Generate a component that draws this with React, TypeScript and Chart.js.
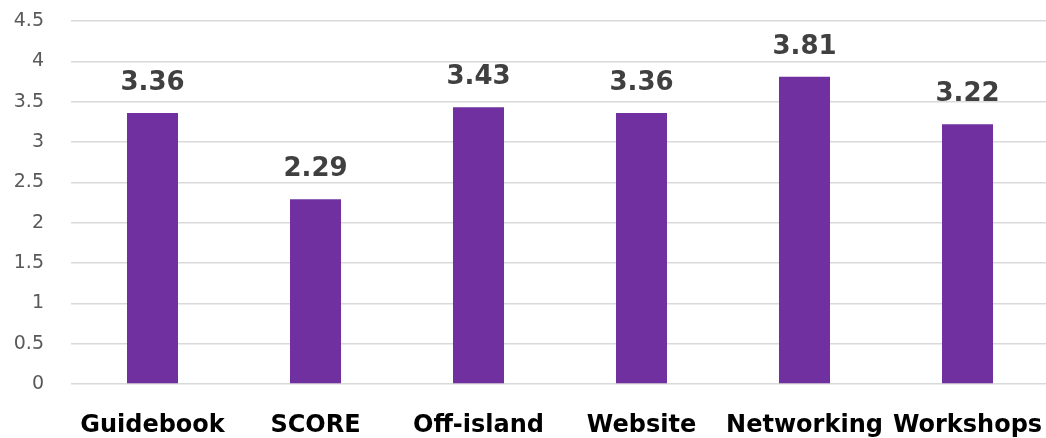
import React, { useEffect, useRef } from "react";
import { Chart, registerables } from "chart.js";

Chart.register(...registerables);

const categories = ["Guidebook", "SCORE", "Off-island", "Website", "Networking", "Workshops"];
const scores = [3.36, 2.29, 3.43, 3.36, 3.81, 3.22];
const yTicks = [0, 0.5, 1, 1.5, 2, 2.5, 3, 3.5, 4, 4.5];

const valueLabels = {
  id: "valueLabels",
  afterDatasetsDraw(chart: any) {
    const ctx = chart.ctx;
    const meta = chart.getDatasetMeta(0);
    ctx.save();
    ctx.font = "bold 26px 'DejaVu Sans'";
    ctx.fillStyle = "#404040";
    ctx.textAlign = "center";
    ctx.textBaseline = "alphabetic";
    meta.data.forEach((bar: any, i: number) => {
      const v = chart.data.datasets[0].data[i];
      ctx.fillText(v.toFixed(2), bar.x, bar.y - 23);
    });
    ctx.restore();
  },
};

export default function App() {
  const ref = useRef<HTMLCanvasElement>(null);
  useEffect(() => {
    document.body.style.margin = "0";
    const chart = new Chart(ref.current!, {
      type: "bar",
      data: {
        labels: categories,
        datasets: [
          {
            data: scores,
            backgroundColor: "#7030A0",
            categoryPercentage: 1,
            barPercentage: 0.313,
          },
        ],
      },
      options: {
        responsive: false,
        animation: false,
        layout: { padding: { top: 21, left: 0, right: 0, bottom: 0 } },
        plugins: { legend: { display: false }, tooltip: { enabled: false } },
        scales: {
          x: {
            grid: {
              display: true,
              drawOnChartArea: false,
              drawTicks: true,
              tickLength: 27,
              tickColor: "rgba(0,0,0,0)",
            },
            border: { display: false },
            ticks: {
              color: "#000000",
              font: { family: "'DejaVu Sans'", size: 24, weight: "bold" },
              padding: 0,
              maxRotation: 0,
              autoSkip: false,
            },
            afterFit: (s: any) => {
              s.height = 54;
            },
          },
          y: {
            min: 0,
            max: 4.5,
            afterBuildTicks: (s: any) => {
              s.ticks = yTicks.map((v) => ({ value: v }));
            },
            grid: {
              color: "#d9d9d9",
              lineWidth: 1.5,
              drawTicks: true,
              tickLength: 27,
              tickColor: "rgba(0,0,0,0)",
            },
            border: { display: false },
            ticks: {
              color: "#595959",
              font: { family: "'DejaVu Sans'", size: 19 },
              padding: 0,
              callback: (v: any) => String(v),
            },
            afterFit: (s: any) => {
              s.width = 71;
            },
          },
        },
      },
      plugins: [valueLabels],
    });
    return () => chart.destroy();
  }, []);
  return (
    <div style={{ width: 1046, height: 438, overflow: "hidden", background: "#fff" }}>
      <canvas ref={ref} width={1049} height={438} style={{ width: 1049, height: 438, display: "block" }} />
    </div>
  );
}
